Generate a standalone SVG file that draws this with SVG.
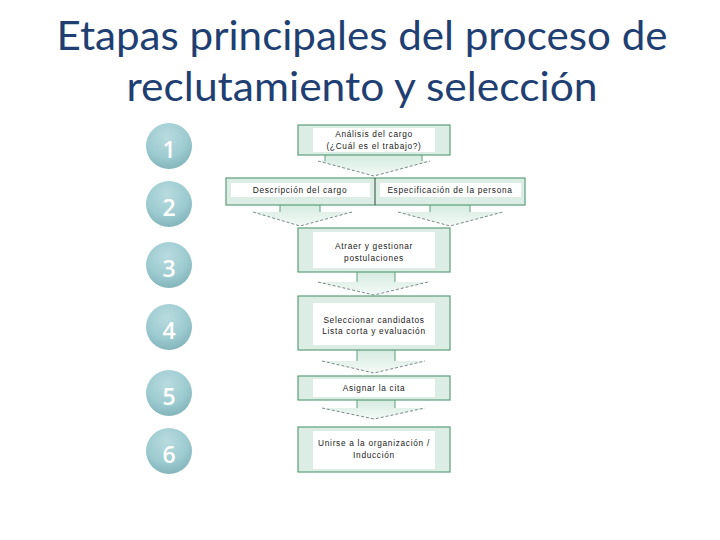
<svg xmlns="http://www.w3.org/2000/svg" width="720" height="540" viewBox="0 0 720 540">
<defs>
<radialGradient id="cg" cx="0.45" cy="0.3" r="0.75">
<stop offset="0" stop-color="#b9dbdf"/>
<stop offset="0.6" stop-color="#9ccbd0"/>
<stop offset="1" stop-color="#7fb1b8"/>
</radialGradient>
<linearGradient id="ag" x1="0" y1="0" x2="0" y2="1">
<stop offset="0" stop-color="#d5ebe1"/>
<stop offset="1" stop-color="#f4faf7"/>
</linearGradient>
<style>
.title{font-family:"Lato","Open Sans",sans-serif;font-size:40px;fill:#1f3f73;text-anchor:middle}
.num{font-family:"Open Sans","Lato",sans-serif;font-size:23px;font-weight:600;fill:#ffffff;text-anchor:middle}
.box{fill:#dbede4;stroke:#5c9f7b;stroke-width:1.2}
.inner{fill:#ffffff}
.lbl{font-family:"Liberation Sans","DejaVu Sans",sans-serif;font-size:8.3px;fill:#1a1a1a;text-anchor:middle;letter-spacing:0.7px}
.arr{fill:url(#ag);stroke:none}
.stem{stroke:#5c9f7b;stroke-width:1;fill:none}
.edge{stroke:#7a8a84;stroke-width:1;stroke-dasharray:3 2;fill:none}
</style>
</defs>
<rect width="720" height="540" fill="#ffffff"/>
<g id="title">
<text class="title" x="362" y="50" textLength="611" lengthAdjust="spacingAndGlyphs">Etapas principales del proceso de</text>
<text class="title" x="362" y="101" textLength="471" lengthAdjust="spacingAndGlyphs">reclutamiento y selección</text>
</g>
<g id="steps">
<g id="step1"><circle cx="169" cy="146" r="23" fill="url(#cg)"/><text class="num" x="169" y="158">1</text></g>
<g id="step2"><circle cx="169" cy="204" r="23" fill="url(#cg)"/><text class="num" x="169" y="216">2</text></g>
<g id="step3"><circle cx="169" cy="265" r="23" fill="url(#cg)"/><text class="num" x="169" y="277">3</text></g>
<g id="step4"><circle cx="169" cy="327" r="23" fill="url(#cg)"/><text class="num" x="169" y="339">4</text></g>
<g id="step5"><circle cx="169" cy="393" r="23" fill="url(#cg)"/><text class="num" x="169" y="405">5</text></g>
<g id="step6"><circle cx="169" cy="451" r="23" fill="url(#cg)"/><text class="num" x="169" y="463">6</text></g>
</g>
<g id="connectors">
<g id="a1"><path class="arr" d="M325 155H422V161H430L374 176L318 161H325Z"/><path class="stem" d="M325 155V161M422 155V161"/><path class="edge" d="M318 161L374 176L430 161"/></g>
<g id="a2l"><path class="arr" d="M280 205H320V212H352L300 226L253 212H280Z"/><path class="stem" d="M280 205V212M320 205V212"/><path class="edge" d="M253 212L300 226L352 212"/></g>
<g id="a2r"><path class="arr" d="M430 205H470V212H503L450 226L398 212H430Z"/><path class="stem" d="M430 205V212M470 205V212"/><path class="edge" d="M398 212L450 226L503 212"/></g>
<g id="a3"><path class="arr" d="M357 272H395V282H428L374 295L318 282H357Z"/><path class="stem" d="M357 272V282M395 272V282"/><path class="edge" d="M318 282L374 295L428 282"/></g>
<g id="a4"><path class="arr" d="M357 350H395V361H425L374 373L322 361H357Z"/><path class="stem" d="M357 350V361M395 350V361"/><path class="edge" d="M322 361L374 373L425 361"/></g>
<g id="a5"><path class="arr" d="M357 400H395V408H425L374 419L322 408H357Z"/><path class="stem" d="M357 400V408M395 400V408"/><path class="edge" d="M322 408L374 419L425 408"/></g>
</g>
<g id="n1">
<rect class="box" x="298" y="125" width="152" height="30"/>
<rect class="inner" x="313" y="128" width="122" height="24"/>
<text class="lbl" x="374" y="137">Análisis del cargo</text>
<text class="lbl" x="374" y="149">(¿Cuál es el trabajo?)</text>
</g>
<g id="n2">
<rect class="box" x="226" y="178" width="299" height="27"/>
<rect class="inner" x="231" y="183" width="139" height="14"/>
<rect class="inner" x="380" y="183" width="141" height="14"/>
<line x1="375" y1="178" x2="375" y2="205" stroke="#2e4a3a" stroke-width="1"/>
<text class="lbl" x="300" y="193">Descripción del cargo</text>
<text class="lbl" x="450" y="193">Especificación de la persona</text>
</g>
<g id="n3">
<rect class="box" x="298" y="228" width="152" height="44"/>
<rect class="inner" x="313" y="232" width="122" height="36"/>
<text class="lbl" x="374" y="249">Atraer y gestionar</text>
<text class="lbl" x="374" y="261">postulaciones</text>
</g>
<g id="n4">
<rect class="box" x="298" y="296" width="152" height="54"/>
<rect class="inner" x="313" y="303" width="122" height="42"/>
<text class="lbl" x="374" y="323">Seleccionar candidatos</text>
<text class="lbl" x="374" y="334">Lista corta y evaluación</text>
</g>
<g id="n5">
<rect class="box" x="298" y="376" width="152" height="24"/>
<rect class="inner" x="313" y="379" width="122" height="18"/>
<text class="lbl" x="374" y="391">Asignar la cita</text>
</g>
<g id="n6">
<rect class="box" x="298" y="427" width="152" height="45"/>
<rect class="inner" x="313" y="431" width="122" height="38"/>
<text class="lbl" x="374" y="446">Unirse a la organización /</text>
<text class="lbl" x="374" y="458">Inducción</text>
</g>
</svg>
